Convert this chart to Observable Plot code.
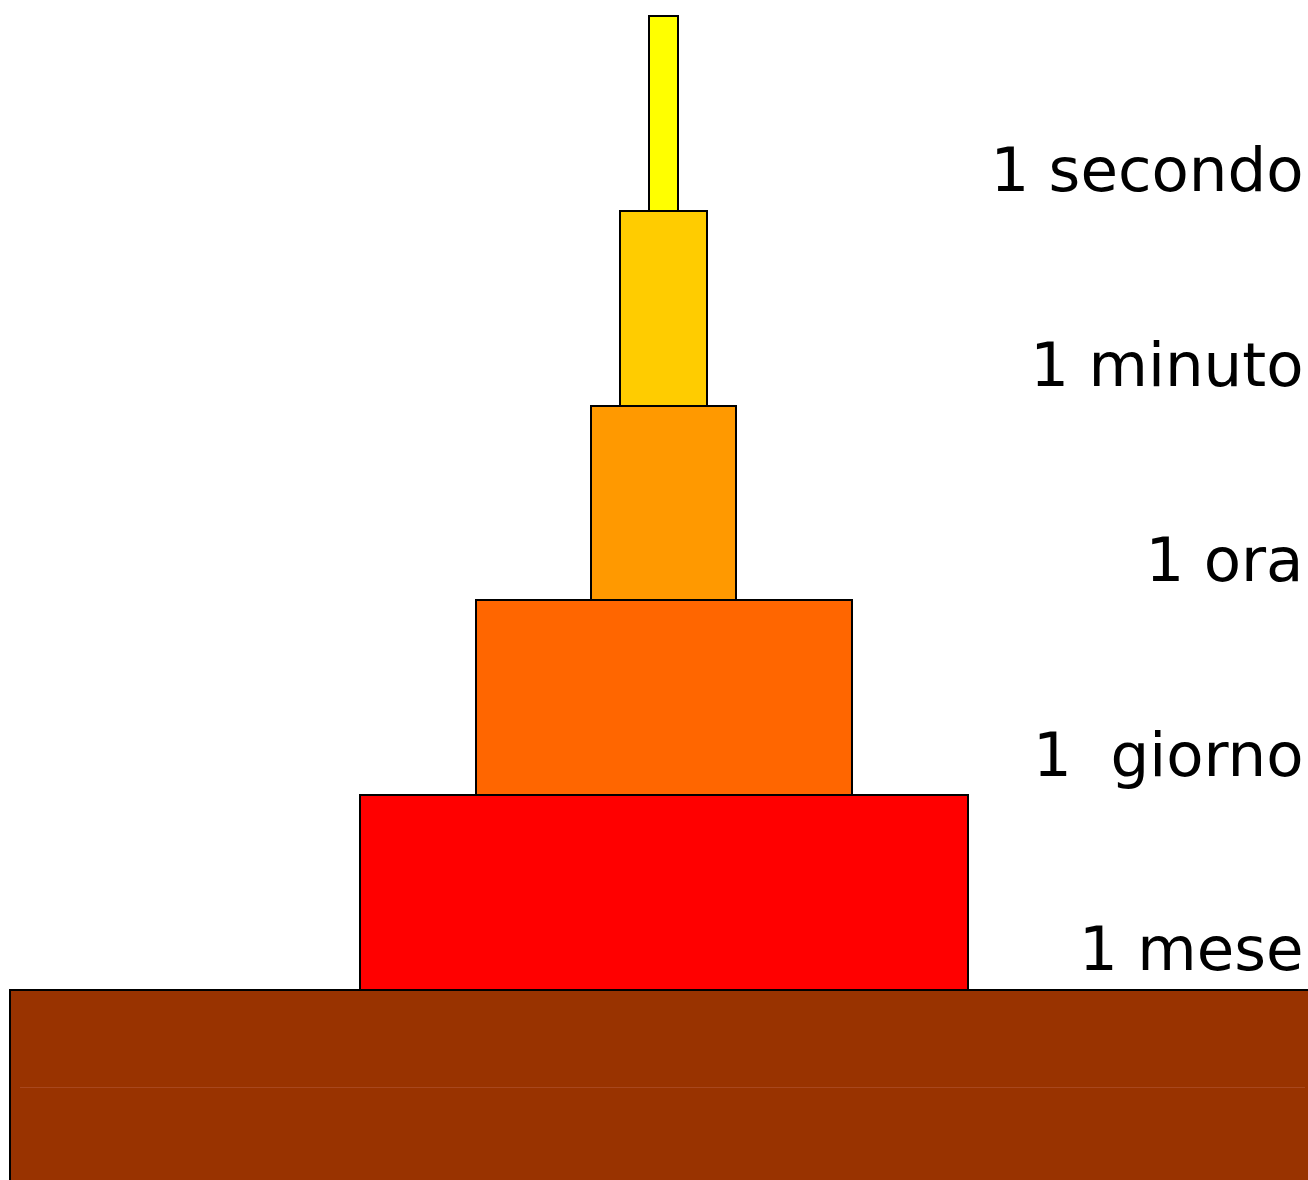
<!DOCTYPE html>
<html>
<head>
<meta charset="utf-8">
<script src="https://cdn.jsdelivr.net/npm/d3@7"></script>
<script src="https://cdn.jsdelivr.net/npm/@observablehq/plot@0.6"></script>
<style>
  html, body { margin: 0; padding: 0; background: #fff; overflow: hidden; }
</style>
</head>
<body>
<div id="chart"></div>
<script>
// Tiers from top to bottom
const labels = ["1 secondo", "1 minuto", "1 ora", "1  giorno", "1 mese"];
const tierLeft = [649, 620, 591, 476, 360];
const tierRight = [678, 707, 736, 852, 968];
const tierTop = [16, 211, 406, 600, 795];
const tierBottom = [211, 406, 600, 795, 990];
const tierColors = ["#FFFF00", "#FFCC00", "#FF9900", "#FF6600", "#FF0000"];
const labelBaseline = [190, 385, 580, 775, 969];

// Base (ground)
const baseLeft = 10, baseRight = 1330, baseTop = 990, baseBottom = 1200;
const baseLineY = 1087;

const tiers = labels.map((label, i) => ({
  label, x1: tierLeft[i], x2: tierRight[i], y1: tierTop[i], y2: tierBottom[i],
  fill: tierColors[i], ty: labelBaseline[i]
}));

const chart = Plot.plot({
  width: 1308,
  height: 1180,
  margin: 0,
  x: {domain: [0, 1308], axis: null},
  y: {domain: [0, 1180], reverse: true, axis: null},
  marks: [
    Plot.rect([{x1: baseLeft, x2: baseRight, y1: baseTop, y2: baseBottom}], {
      x1: "x1", x2: "x2", y1: "y1", y2: "y2",
      fill: "#993300", stroke: "black", strokeWidth: 2, inset: 0
    }),
    Plot.ruleY([baseLineY], {x1: 20, x2: 1305, stroke: "#A8471E", strokeWidth: 1}),
    Plot.rect(tiers, {
      x1: "x1", x2: "x2", y1: "y1", y2: "y2",
      fill: d => d.fill, stroke: "black", strokeWidth: 2, inset: 0
    }),
    Plot.text(tiers, {
      x: 1303, y: "ty", text: "label",
      textAnchor: "end", lineAnchor: "bottom",
      fontSize: 61, fontFamily: "DejaVu Sans", fill: "black"
    })
  ]
});
document.getElementById("chart").append(chart);
</script>
</body>
</html>
